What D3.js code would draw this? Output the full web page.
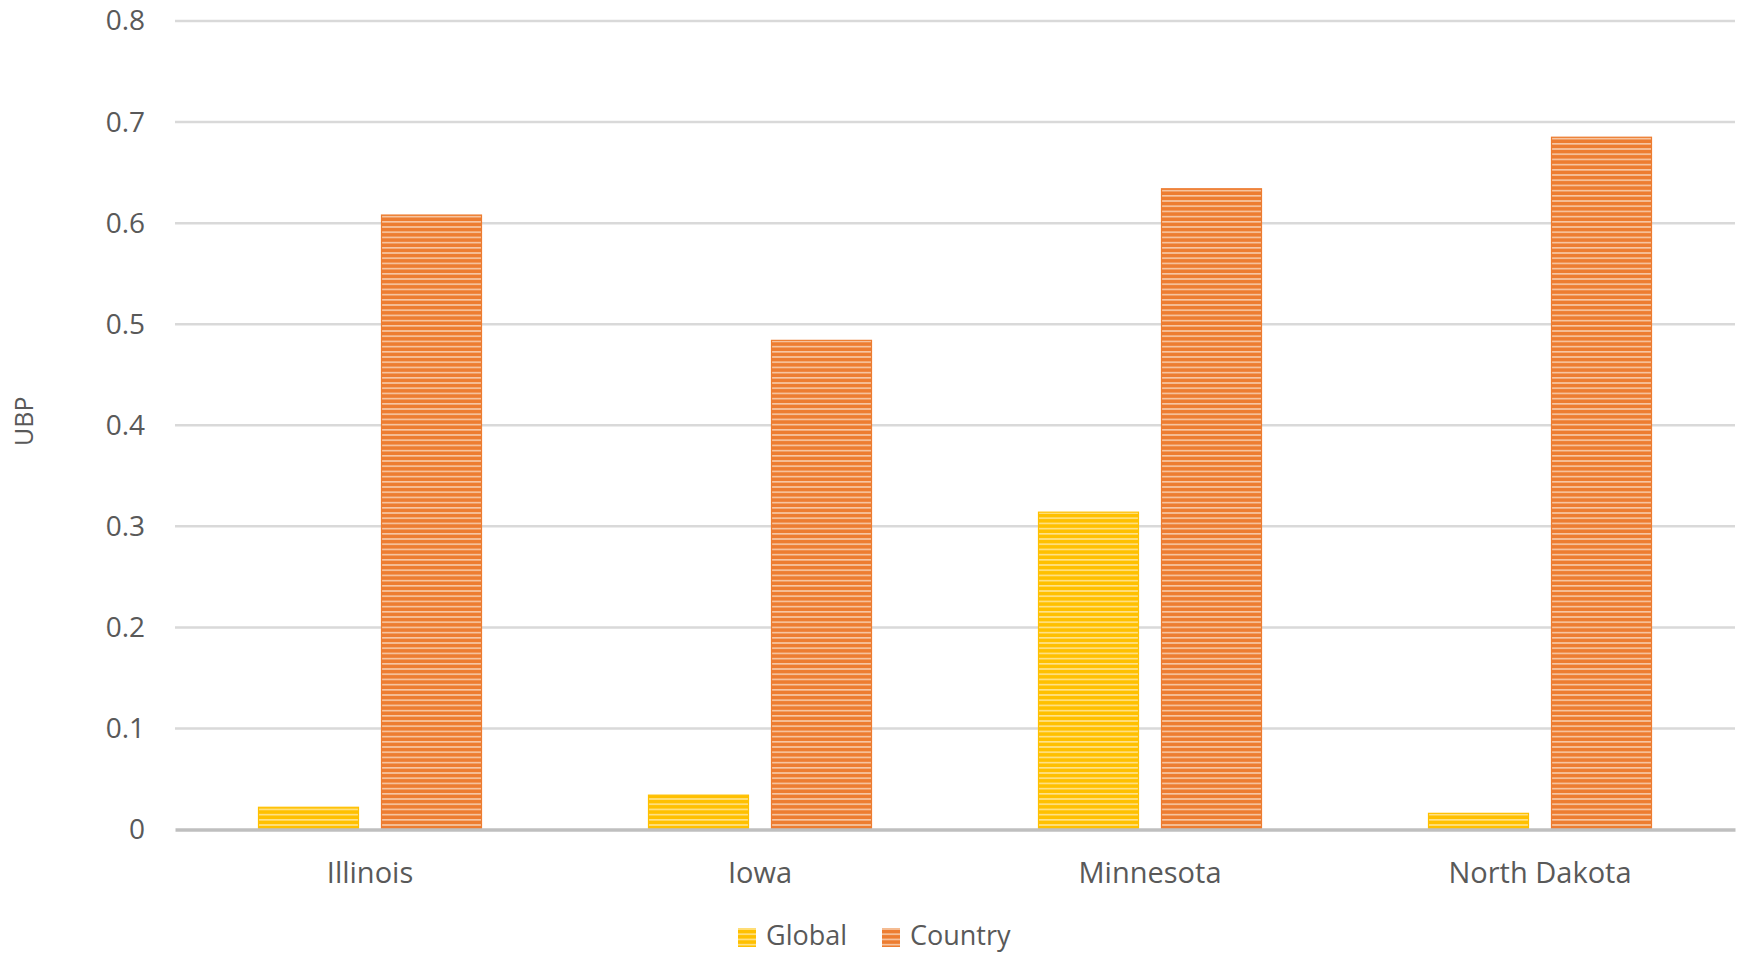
<!DOCTYPE html>
<html>
<head>
<meta charset="utf-8">
<script src="https://cdn.jsdelivr.net/npm/d3@7"></script>
<style>
  html, body { margin: 0; padding: 0; background: #ffffff; }
  svg { display: block; }
  text { font-family: "Open Sans", Lato, sans-serif; fill: #595959; }
</style>
</head>
<body>
<svg id="chart" width="1743" height="954"></svg>
<script>
// UBP per state, split into global and country contributions
const states = ["Illinois", "Iowa", "Minnesota", "North Dakota"];
const seriesNames = ["Global", "Country"];
const globalValues = [0.022, 0.034, 0.314, 0.016];
const countryValues = [0.608, 0.484, 0.634, 0.685];
const yTicks = [0, 0.1, 0.2, 0.3, 0.4, 0.5, 0.6, 0.7, 0.8];
const yTitle = "UBP";

const seriesValues = [globalValues, countryValues];
const baseColors = ["#FFC000", "#ED7D31"];
const stripeColors = ["#FFE28A", "#F7C7A4"];
const fontFamily = "'Open Sans', Lato, sans-serif";

const svg = d3.select("#chart");
const W = 1743, H = 954;
const margin = { left: 175, right: 8, top: 21, bottom: H - 829.5 };

const x = d3.scaleBand()
  .domain(states)
  .range([margin.left, W - margin.right])
  .paddingInner(0)
  .paddingOuter(0);

const y = d3.scaleLinear()
  .domain([0, 0.8])
  .range([H - margin.bottom, margin.top]);

// striped fills for each series
const defs = svg.append("defs");
seriesNames.forEach((name, i) => {
  const p = defs.append("pattern")
    .attr("id", "stripe-" + i)
    .attr("patternUnits", "userSpaceOnUse")
    .attr("width", 8)
    .attr("height", 5.2);
  p.append("rect").attr("width", 8).attr("height", 5.2).attr("fill", baseColors[i]);
  p.append("rect").attr("y", 2.6).attr("width", 8).attr("height", 1.6).attr("fill", stripeColors[i]);
});

// horizontal gridlines
svg.append("g")
  .selectAll("line")
  .data(yTicks.filter(d => d > 0))
  .join("line")
  .attr("x1", margin.left)
  .attr("x2", W - margin.right)
  .attr("y1", d => y(d))
  .attr("y2", d => y(d))
  .attr("stroke", "#D9D9D9")
  .attr("stroke-width", 2.5);

// y axis tick labels
const yAxis = d3.axisLeft(y)
  .tickValues(yTicks)
  .tickFormat(d => d === 0 ? "0" : d3.format(".1f")(d))
  .tickSize(0)
  .tickPadding(30);
const gy = svg.append("g")
  .attr("transform", `translate(${margin.left},0)`)
  .call(yAxis);
gy.select(".domain").remove();
gy.selectAll("text")
  .attr("font-size", 28)
  .attr("fill", "#595959")
  .style("font-family", fontFamily);

// bars
const barW = 100, gap = 23;
const groups = svg.append("g")
  .selectAll("g")
  .data(states)
  .join("g")
  .attr("transform", d => `translate(${x(d) + x.bandwidth() / 2},0)`);

seriesNames.forEach((name, i) => {
  groups.append("rect")
    .attr("x", i === 0 ? -(gap / 2) - barW : gap / 2)
    .attr("width", barW)
    .attr("y", (d, j) => y(seriesValues[i][j]))
    .attr("height", (d, j) => y(0) - y(seriesValues[i][j]))
    .attr("fill", `url(#stripe-${i})`)
    .attr("stroke", baseColors[i])
    .attr("stroke-width", 1.2);
});

// category axis
const xAxis = d3.axisBottom(x).tickSize(0).tickPadding(33);
const gx = svg.append("g")
  .attr("transform", `translate(0,${y(0)})`)
  .call(xAxis);
gx.select(".domain")
  .attr("stroke", "#BFBFBF")
  .attr("stroke-width", 3.5);
gx.selectAll("text")
  .attr("font-size", 29)
  .attr("fill", "#595959")
  .style("font-family", fontFamily);

// y axis title
svg.append("text")
  .attr("transform", `translate(33,${(y(0) + y(0.8)) / 2 - 4}) rotate(-90)`)
  .attr("text-anchor", "middle")
  .attr("font-size", 25)
  .text(yTitle);

// legend
const legendItems = [
  { name: seriesNames[0], x: 738 },
  { name: seriesNames[1], x: 882 }
];
const lg = svg.append("g");
legendItems.forEach((item, i) => {
  lg.append("rect")
    .attr("x", item.x)
    .attr("y", 928)
    .attr("width", 18)
    .attr("height", 19)
    .attr("fill", `url(#stripe-${i})`);
  lg.append("text")
    .attr("x", item.x + 28)
    .attr("y", 945)
    .attr("font-size", 27)
    .text(item.name);
});
</script>
</body>
</html>
